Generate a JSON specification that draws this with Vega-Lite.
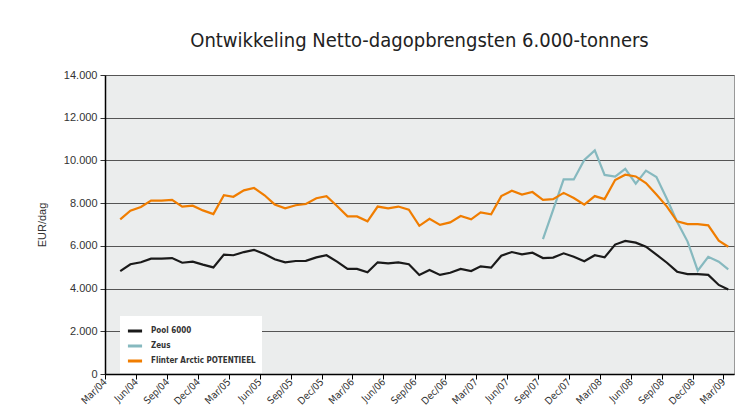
{
  "$schema": "https://vega.github.io/schema/vega-lite/v6.json",
  "width": 629,
  "height": 299,
  "autosize": "none",
  "padding": {"left": 105, "top": 75, "right": 19, "bottom": 46},
  "background": "white",
  "title": {
    "text": "Ontwikkeling Netto-dagopbrengsten 6.000-tonners",
    "font": "Liberation Sans Narrow, DejaVu Sans Condensed, sans-serif",
    "fontSize": 20,
    "fontWeight": "normal",
    "color": "#222222",
    "anchor": "middle",
    "offset": 18
  },
  "data": {
    "values": [
      {"d": "2004-04-15", "Pool 6000": 4820, "Zeus": null, "Flinter Arctic POTENTIEEL": 7240},
      {"d": "2004-05-15", "Pool 6000": 5140, "Zeus": null, "Flinter Arctic POTENTIEEL": 7650},
      {"d": "2004-06-15", "Pool 6000": 5230, "Zeus": null, "Flinter Arctic POTENTIEEL": 7820},
      {"d": "2004-07-15", "Pool 6000": 5400, "Zeus": null, "Flinter Arctic POTENTIEEL": 8120},
      {"d": "2004-08-15", "Pool 6000": 5400, "Zeus": null, "Flinter Arctic POTENTIEEL": 8120},
      {"d": "2004-09-15", "Pool 6000": 5430, "Zeus": null, "Flinter Arctic POTENTIEEL": 8150},
      {"d": "2004-10-15", "Pool 6000": 5210, "Zeus": null, "Flinter Arctic POTENTIEEL": 7840},
      {"d": "2004-11-15", "Pool 6000": 5260, "Zeus": null, "Flinter Arctic POTENTIEEL": 7880},
      {"d": "2004-12-15", "Pool 6000": 5120, "Zeus": null, "Flinter Arctic POTENTIEEL": 7660},
      {"d": "2005-01-15", "Pool 6000": 4990, "Zeus": null, "Flinter Arctic POTENTIEEL": 7490},
      {"d": "2005-02-15", "Pool 6000": 5590, "Zeus": null, "Flinter Arctic POTENTIEEL": 8370},
      {"d": "2005-03-15", "Pool 6000": 5560, "Zeus": null, "Flinter Arctic POTENTIEEL": 8300},
      {"d": "2005-04-15", "Pool 6000": 5710, "Zeus": null, "Flinter Arctic POTENTIEEL": 8600},
      {"d": "2005-05-15", "Pool 6000": 5810, "Zeus": null, "Flinter Arctic POTENTIEEL": 8710},
      {"d": "2005-06-15", "Pool 6000": 5620, "Zeus": null, "Flinter Arctic POTENTIEEL": 8370},
      {"d": "2005-07-15", "Pool 6000": 5370, "Zeus": null, "Flinter Arctic POTENTIEEL": 7940},
      {"d": "2005-08-15", "Pool 6000": 5230, "Zeus": null, "Flinter Arctic POTENTIEEL": 7760},
      {"d": "2005-09-15", "Pool 6000": 5290, "Zeus": null, "Flinter Arctic POTENTIEEL": 7900},
      {"d": "2005-10-15", "Pool 6000": 5300, "Zeus": null, "Flinter Arctic POTENTIEEL": 7960},
      {"d": "2005-11-15", "Pool 6000": 5460, "Zeus": null, "Flinter Arctic POTENTIEEL": 8230},
      {"d": "2005-12-15", "Pool 6000": 5560, "Zeus": null, "Flinter Arctic POTENTIEEL": 8330},
      {"d": "2006-01-15", "Pool 6000": 5260, "Zeus": null, "Flinter Arctic POTENTIEEL": 7870},
      {"d": "2006-02-15", "Pool 6000": 4920, "Zeus": null, "Flinter Arctic POTENTIEEL": 7380},
      {"d": "2006-03-15", "Pool 6000": 4920, "Zeus": null, "Flinter Arctic POTENTIEEL": 7380},
      {"d": "2006-04-15", "Pool 6000": 4760, "Zeus": null, "Flinter Arctic POTENTIEEL": 7150},
      {"d": "2006-05-15", "Pool 6000": 5230, "Zeus": null, "Flinter Arctic POTENTIEEL": 7840},
      {"d": "2006-06-15", "Pool 6000": 5180, "Zeus": null, "Flinter Arctic POTENTIEEL": 7760},
      {"d": "2006-07-15", "Pool 6000": 5230, "Zeus": null, "Flinter Arctic POTENTIEEL": 7840},
      {"d": "2006-08-15", "Pool 6000": 5140, "Zeus": null, "Flinter Arctic POTENTIEEL": 7690},
      {"d": "2006-09-15", "Pool 6000": 4640, "Zeus": null, "Flinter Arctic POTENTIEEL": 6940},
      {"d": "2006-10-15", "Pool 6000": 4870, "Zeus": null, "Flinter Arctic POTENTIEEL": 7270},
      {"d": "2006-11-15", "Pool 6000": 4640, "Zeus": null, "Flinter Arctic POTENTIEEL": 6980},
      {"d": "2006-12-15", "Pool 6000": 4740, "Zeus": null, "Flinter Arctic POTENTIEEL": 7100},
      {"d": "2007-01-15", "Pool 6000": 4920, "Zeus": null, "Flinter Arctic POTENTIEEL": 7400},
      {"d": "2007-02-15", "Pool 6000": 4820, "Zeus": null, "Flinter Arctic POTENTIEEL": 7240},
      {"d": "2007-03-15", "Pool 6000": 5040, "Zeus": null, "Flinter Arctic POTENTIEEL": 7570},
      {"d": "2007-04-15", "Pool 6000": 4980, "Zeus": null, "Flinter Arctic POTENTIEEL": 7480},
      {"d": "2007-05-15", "Pool 6000": 5540, "Zeus": null, "Flinter Arctic POTENTIEEL": 8330},
      {"d": "2007-06-15", "Pool 6000": 5710, "Zeus": null, "Flinter Arctic POTENTIEEL": 8580},
      {"d": "2007-07-15", "Pool 6000": 5600, "Zeus": null, "Flinter Arctic POTENTIEEL": 8400},
      {"d": "2007-08-15", "Pool 6000": 5680, "Zeus": null, "Flinter Arctic POTENTIEEL": 8520},
      {"d": "2007-09-15", "Pool 6000": 5430, "Zeus": 6320, "Flinter Arctic POTENTIEEL": 8150},
      {"d": "2007-10-15", "Pool 6000": 5450, "Zeus": 7680, "Flinter Arctic POTENTIEEL": 8190},
      {"d": "2007-11-15", "Pool 6000": 5650, "Zeus": 9110, "Flinter Arctic POTENTIEEL": 8480},
      {"d": "2007-12-15", "Pool 6000": 5490, "Zeus": 9110, "Flinter Arctic POTENTIEEL": 8240},
      {"d": "2008-01-15", "Pool 6000": 5280, "Zeus": 10020, "Flinter Arctic POTENTIEEL": 7930},
      {"d": "2008-02-15", "Pool 6000": 5560, "Zeus": 10470, "Flinter Arctic POTENTIEEL": 8330},
      {"d": "2008-03-15", "Pool 6000": 5460, "Zeus": 9320, "Flinter Arctic POTENTIEEL": 8190},
      {"d": "2008-04-15", "Pool 6000": 6060, "Zeus": 9240, "Flinter Arctic POTENTIEEL": 9080},
      {"d": "2008-05-15", "Pool 6000": 6230, "Zeus": 9610, "Flinter Arctic POTENTIEEL": 9330},
      {"d": "2008-06-15", "Pool 6000": 6150, "Zeus": 8910, "Flinter Arctic POTENTIEEL": 9250},
      {"d": "2008-07-15", "Pool 6000": 5960, "Zeus": 9520, "Flinter Arctic POTENTIEEL": 8940},
      {"d": "2008-08-15", "Pool 6000": 5590, "Zeus": 9220, "Flinter Arctic POTENTIEEL": 8400},
      {"d": "2008-09-15", "Pool 6000": 5210, "Zeus": 8190, "Flinter Arctic POTENTIEEL": 7840},
      {"d": "2008-10-15", "Pool 6000": 4790, "Zeus": 7130, "Flinter Arctic POTENTIEEL": 7150},
      {"d": "2008-11-15", "Pool 6000": 4680, "Zeus": 6200, "Flinter Arctic POTENTIEEL": 7020},
      {"d": "2008-12-15", "Pool 6000": 4680, "Zeus": 4840, "Flinter Arctic POTENTIEEL": 7020},
      {"d": "2009-01-15", "Pool 6000": 4640, "Zeus": 5490, "Flinter Arctic POTENTIEEL": 6960},
      {"d": "2009-02-15", "Pool 6000": 4170, "Zeus": 5260, "Flinter Arctic POTENTIEEL": 6240},
      {"d": "2009-03-15", "Pool 6000": 3960, "Zeus": 4900, "Flinter Arctic POTENTIEEL": 5960}
    ]
  },
  "transform": [
    {"fold": ["Pool 6000", "Zeus", "Flinter Arctic POTENTIEEL"], "as": ["series", "value"]}
  ],
  "mark": {"type": "line", "strokeWidth": 2.2},
  "encoding": {
    "x": {
      "field": "d",
      "type": "temporal",
      "scale": {
        "type": "utc",
        "domain": [
          {"year": 2004, "month": 3, "date": 1, "utc": true},
          {"year": 2009, "month": 4, "date": 1, "utc": true}
        ]
      },
      "axis": {
        "title": null,
        "grid": false,
        "format": "%b/%y",
        "values": [
          {"year": 2004, "month": 3, "date": 1, "utc": true},
          {"year": 2004, "month": 6, "date": 1, "utc": true},
          {"year": 2004, "month": 9, "date": 1, "utc": true},
          {"year": 2004, "month": 12, "date": 1, "utc": true},
          {"year": 2005, "month": 3, "date": 1, "utc": true},
          {"year": 2005, "month": 6, "date": 1, "utc": true},
          {"year": 2005, "month": 9, "date": 1, "utc": true},
          {"year": 2005, "month": 12, "date": 1, "utc": true},
          {"year": 2006, "month": 3, "date": 1, "utc": true},
          {"year": 2006, "month": 6, "date": 1, "utc": true},
          {"year": 2006, "month": 9, "date": 1, "utc": true},
          {"year": 2006, "month": 12, "date": 1, "utc": true},
          {"year": 2007, "month": 3, "date": 1, "utc": true},
          {"year": 2007, "month": 6, "date": 1, "utc": true},
          {"year": 2007, "month": 9, "date": 1, "utc": true},
          {"year": 2007, "month": 12, "date": 1, "utc": true},
          {"year": 2008, "month": 3, "date": 1, "utc": true},
          {"year": 2008, "month": 6, "date": 1, "utc": true},
          {"year": 2008, "month": 9, "date": 1, "utc": true},
          {"year": 2008, "month": 12, "date": 1, "utc": true},
          {"year": 2009, "month": 3, "date": 1, "utc": true}
        ],
        "labelAngle": -45,
        "labelAlign": "right",
        "labelBaseline": "middle",
        "labelFont": "DejaVu Sans Condensed, Liberation Sans Narrow, sans-serif",
        "labelFontSize": 10,
        "labelColor": "#333333",
        "labelPadding": 1,
        "domainColor": "#000000",
        "domainWidth": 1.5,
        "tickColor": "#000000",
        "tickSize": 5,
        "labelOverlap": false
      }
    },
    "y": {
      "field": "value",
      "type": "quantitative",
      "scale": {"domain": [0, 14000]},
      "axis": {
        "title": "EUR/dag",
        "titleFont": "Liberation Sans, sans-serif",
        "titleFontSize": 11,
        "titleFontWeight": "normal",
        "titleColor": "#333333",
        "titlePadding": 16,
        "values": [0, 2000, 4000, 6000, 8000, 10000, 12000, 14000],
        "labelExpr": "replace(format(datum.value, ',d'), ',', '.')",
        "labelFont": "Liberation Sans, sans-serif",
        "labelFontSize": 11,
        "labelColor": "#333333",
        "labelPadding": 3,
        "grid": true,
        "gridColor": "#555555",
        "gridWidth": 1,
        "domainColor": "#000000",
        "domainWidth": 1.5,
        "tickColor": "#333333",
        "tickSize": 5
      }
    },
    "color": {
      "field": "series",
      "type": "nominal",
      "scale": {
        "domain": ["Pool 6000", "Zeus", "Flinter Arctic POTENTIEEL"],
        "range": ["#1a1a1a", "#86b9bf", "#f07d00"]
      },
      "legend": {
        "title": null,
        "orient": "none",
        "legendX": 15,
        "legendY": 241,
        "fillColor": "#ffffff",
        "padding": 6,
        "symbolType": "stroke",
        "symbolSize": 200,
        "symbolStrokeWidth": 3,
        "labelFont": "DejaVu Sans Condensed, Liberation Sans Narrow, sans-serif",
        "labelFontSize": 8,
        "labelFontWeight": "bold",
        "labelColor": "#333333",
        "labelOffset": 7,
        "rowPadding": 0
      }
    }
  },
  "config": {
    "view": {"fill": "#ebeded", "stroke": "#999999", "strokeWidth": 1}
  }
}
